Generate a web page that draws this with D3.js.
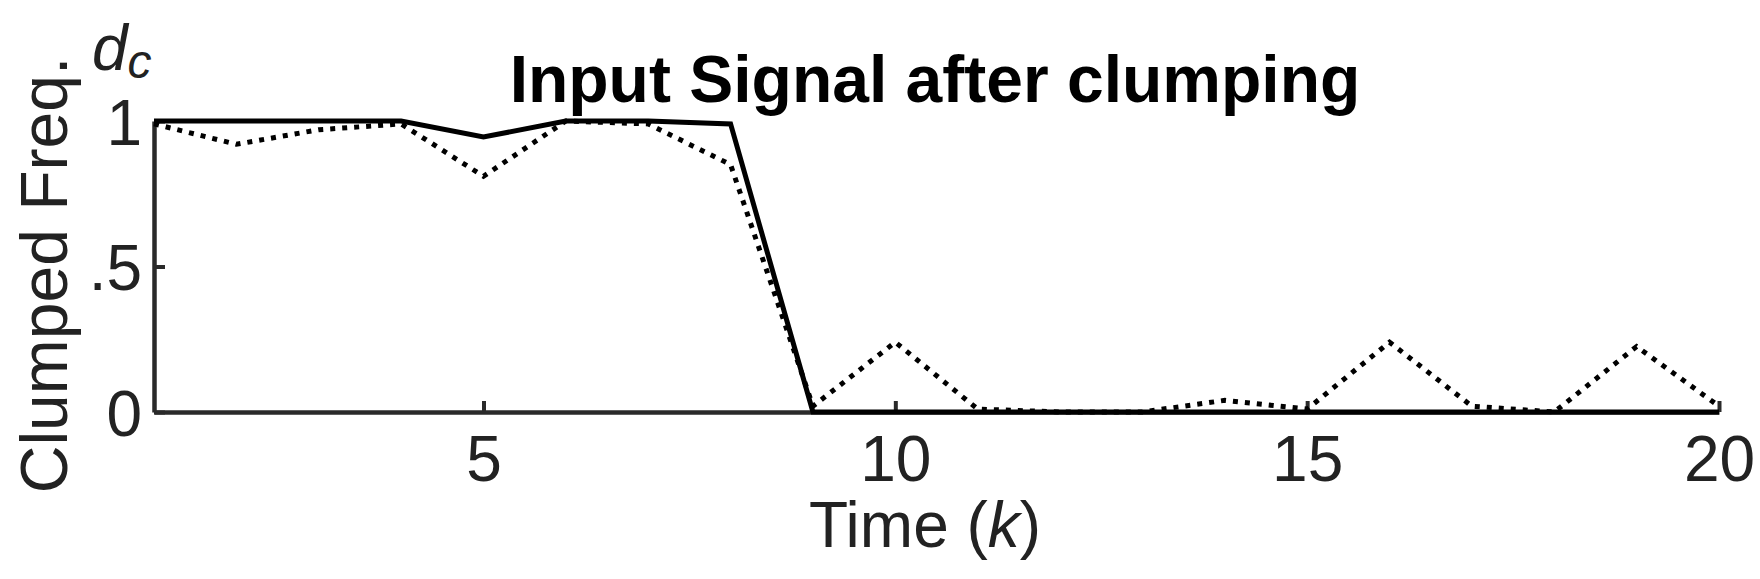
<!DOCTYPE html>
<html>
<head>
<meta charset="utf-8">
<script src="https://cdn.jsdelivr.net/npm/d3@7"></script>
<style>
  html, body { margin: 0; padding: 0; background: #fff; }
  svg { display: block; }
  text { font-family: "Liberation Sans", Arial, Helvetica, sans-serif; }
</style>
</head>
<body>
<svg id="chart" width="1760" height="579"></svg>
<script>
// ---- data ----
const timeSteps = [1,2,3,4,5,6,7,8,9,10,11,12,13,14,15,16,17,18,19,20];
const solidSeries = [1.0,1.0,1.0,1.0,0.945,1.0,1.0,0.99,0,0,0,0,0,0,0,0,0,0,0,0];
const dottedSeries = [0.99,0.92,0.97,0.99,0.81,1.0,0.99,0.85,0.02,0.24,0.01,0.0,0.0,0.04,0.01,0.24,0.02,0.0,0.225,0.02];
const xTickValues = [5,10,15,20];
const xTickLabels = ["5","10","15","20"];
const yTickValues = [0,0.5,1];
const yTickLabels = ["0",".5","1"];
const titleText = "Input Signal after clumping";
const xLabelMain = "Time (";
const xLabelVar = "k";
const yLabelText = "Clumped Freq.";

// ---- layout ----
const svg = d3.select("#chart");
const x = d3.scaleLinear().domain([1, 20]).range([154, 1719]);
const y = d3.scaleLinear().domain([0, 1]).range([412, 121]);

const axisColor = "#2a2a2a";

// x axis
const xAxis = d3.axisBottom(x)
  .tickValues(xTickValues)
  .tickFormat((d, i) => xTickLabels[i])
  .tickSizeInner(-11)
  .tickSizeOuter(0)
  .tickPadding(24);
const gx = svg.append("g").attr("transform", `translate(0,${y(0)})`).call(xAxis);
gx.select(".domain").attr("stroke", axisColor).attr("stroke-width", 4.5);
gx.selectAll(".tick line").attr("stroke", axisColor).attr("stroke-width", 4);
gx.selectAll(".tick text").attr("fill", "#222").attr("font-size", 64)
  .attr("font-family", "'Liberation Sans', Arial, sans-serif");

// y axis
const yAxis = d3.axisLeft(y)
  .tickValues(yTickValues)
  .tickFormat((d, i) => yTickLabels[i])
  .tickSizeInner(-11)
  .tickSizeOuter(0)
  .tickPadding(12);
const gy = svg.append("g").attr("transform", `translate(${x(1)},0)`).call(yAxis);
gy.select(".domain").attr("stroke", axisColor).attr("stroke-width", 4.5);
gy.selectAll(".tick line").attr("stroke", axisColor).attr("stroke-width", 4);
gy.selectAll(".tick text").attr("fill", "#222").attr("font-size", 64)
  .attr("dy", "0.36em")
  .attr("font-family", "'Liberation Sans', Arial, sans-serif");

// lines
const solidData = timeSteps.map((t, i) => ({t, v: solidSeries[i]}));
const dottedData = timeSteps.map((t, i) => ({t, v: dottedSeries[i]}));
const line = d3.line().x(d => x(d.t)).y(d => y(d.v));

svg.append("path").datum(solidData)
  .attr("d", line)
  .attr("fill", "none")
  .attr("stroke", "#000")
  .attr("stroke-width", 5)
  .attr("stroke-linejoin", "miter");

svg.append("path").datum(dottedData)
  .attr("d", line)
  .attr("fill", "none")
  .attr("stroke", "#000")
  .attr("stroke-width", 5)
  .attr("stroke-dasharray", "5 7");

// title
svg.append("text")
  .attr("x", 935).attr("y", 102)
  .attr("text-anchor", "middle")
  .attr("font-size", 66)
  .attr("font-weight", "bold")
  .attr("fill", "#000")
  .text(titleText);

// x label
const xl = svg.append("text")
  .attr("x", 925).attr("y", 547)
  .attr("text-anchor", "middle")
  .attr("font-size", 64)
  .attr("fill", "#222");
xl.append("tspan").text(xLabelMain);
xl.append("tspan").attr("font-style", "italic").text(xLabelVar);
xl.append("tspan").text(")");

// y label
svg.append("text")
  .attr("transform", "translate(67,275) rotate(-90)")
  .attr("text-anchor", "middle")
  .attr("font-size", 66)
  .attr("fill", "#222")
  .text(yLabelText);

// d_c annotation
const dc = svg.append("text")
  .attr("x", 92).attr("y", 70)
  .attr("font-size", 64)
  .attr("font-style", "italic")
  .attr("fill", "#222");
dc.append("tspan").text("d");
dc.append("tspan").attr("font-size", 48).attr("dy", 8).text("c");
</script>
</body>
</html>
